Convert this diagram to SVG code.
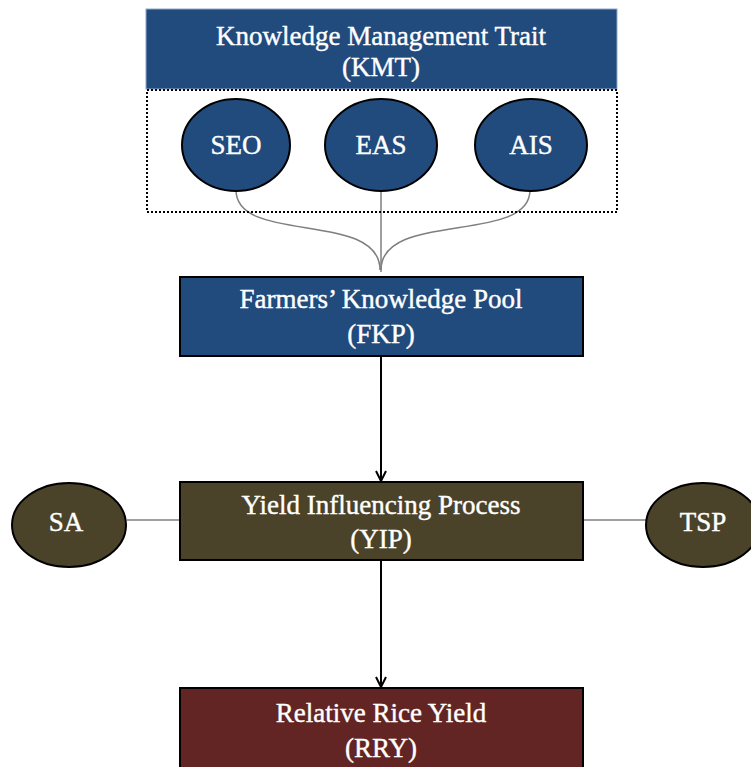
<svg xmlns="http://www.w3.org/2000/svg" width="751" height="767" viewBox="0 0 751 767">
<defs>
<style>
.t{font-family:"Liberation Serif","Times New Roman",serif;fill:#fff;stroke:#fff;stroke-width:0.4;text-anchor:middle;}
.big{font-size:27px;}
.el{font-size:27px;}
.blue{fill:#214a7d;}
.olive{fill:#4a4329;}
.red{fill:#632523;}
.box{stroke:#000;stroke-width:2;}
.conn{fill:none;stroke:#7f7f7f;stroke-width:1.5;}
.arrow{fill:none;stroke:#000;stroke-width:2;}
</style>
<marker id="ah" viewBox="0 0 12 12" refX="11" refY="6" markerWidth="12" markerHeight="12" markerUnits="userSpaceOnUse" orient="auto">
<path d="M1,1 L11,6 L1,11" fill="none" stroke="#000" stroke-width="2"/>
</marker>
</defs>
<rect width="751" height="767" fill="#fff"/>
<g id="connectors">
<path class="conn" d="M236,190 C236,245 380,210 380,270"/>
<path class="conn" d="M381,190 L381,272"/>
<path class="conn" d="M530,190 C530,245 381,210 381,270"/>
<line class="arrow" x1="381" y1="356" x2="381" y2="481" marker-end="url(#ah)"/>
<line class="arrow" x1="381" y1="560" x2="381" y2="687" marker-end="url(#ah)"/>
<line class="conn" x1="127" y1="520" x2="180" y2="520"/>
<line class="conn" x1="583" y1="520" x2="646" y2="520"/>
</g>
<g id="KMT">
<rect x="146" y="9" width="471" height="80" class="blue" stroke="#8eaacc" stroke-width="1"/>
<rect x="147" y="90" width="470" height="122" fill="none" stroke="#000" stroke-width="2" stroke-dasharray="2,2"/>
<text class="t big" x="381" y="45">Knowledge Management Trait</text>
<text class="t big" x="381" y="76">(KMT)</text>
</g>
<g id="SEO">
<ellipse cx="236" cy="145" rx="54" ry="46" class="blue box"/>
<text class="t el" x="236" y="154">SEO</text>
</g>
<g id="EAS">
<ellipse cx="381" cy="145" rx="56" ry="46" class="blue box"/>
<text class="t el" x="381" y="154">EAS</text>
</g>
<g id="AIS">
<ellipse cx="531" cy="145" rx="56" ry="46" class="blue box"/>
<text class="t el" x="531" y="154">AIS</text>
</g>
<g id="FKP">
<rect x="180" y="277" width="403" height="79" class="blue box"/>
<text class="t big" x="381" y="308">Farmers’ Knowledge Pool</text>
<text class="t big" x="381" y="343">(FKP)</text>
</g>
<g id="YIP">
<rect x="180" y="482" width="403" height="78" class="olive box"/>
<text class="t big" x="381" y="514">Yield Influencing Process</text>
<text class="t big" x="381" y="548">(YIP)</text>
</g>
<g id="SA">
<ellipse cx="69" cy="525" rx="57" ry="42" class="olive box"/>
<text class="t el" x="66" y="531">SA</text>
</g>
<g id="TSP">
<ellipse cx="703" cy="525" rx="57" ry="42" class="olive box"/>
<text class="t el" x="703" y="531">TSP</text>
</g>
<g id="RRY">
<rect x="180" y="688" width="403" height="90" class="red box"/>
<text class="t big" x="381" y="722">Relative Rice Yield</text>
<text class="t big" x="381" y="757">(RRY)</text>
</g>
</svg>
